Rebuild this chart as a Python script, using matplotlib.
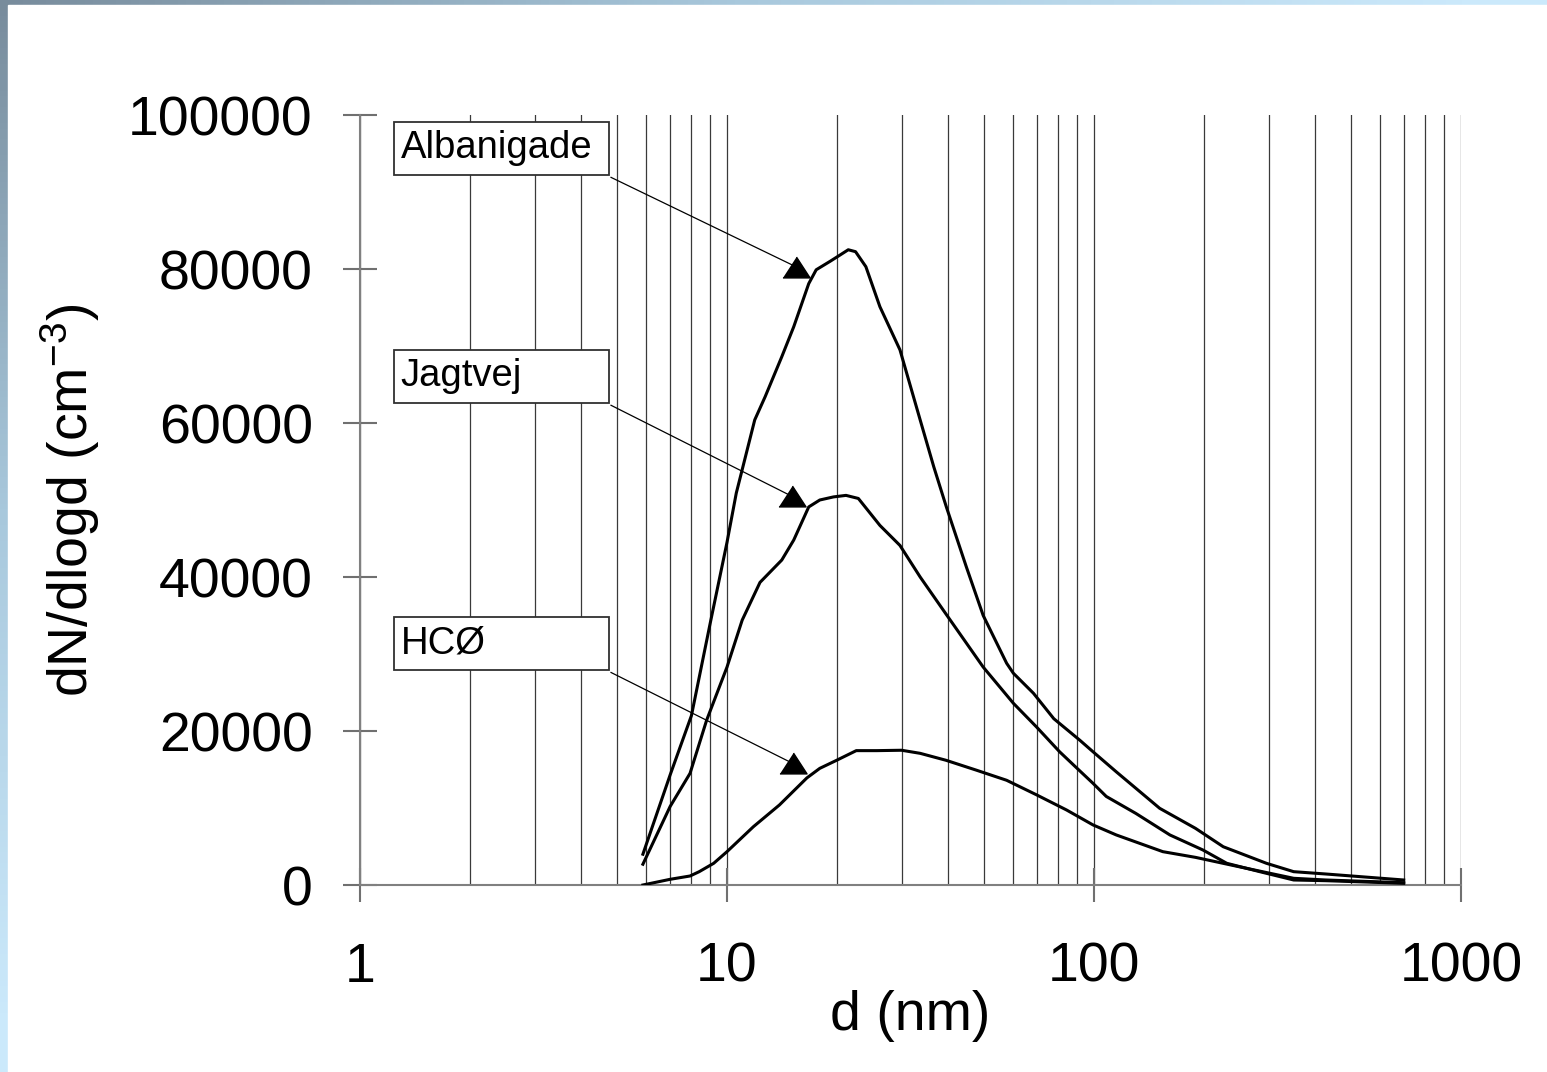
import numpy as np
import matplotlib
matplotlib.use('Agg')
import matplotlib.pyplot as plt
from matplotlib import ticker
from matplotlib.colors import LinearSegmentedColormap
from matplotlib.patches import Rectangle

plt.rcParams['font.family'] = ['Liberation Sans', 'DejaVu Sans']
plt.rcParams['mathtext.default'] = 'regular'

# size distributions (d in nm, dN/dlogd in cm^-3)
d_alb = [5.9, 7.0, 8.0, 9.0, 10.0, 10.6, 11.9, 12.7, 14.1, 15.2, 16.7, 17.5, 19.1, 20.3,
         21.4, 22.4, 23.9, 26.1, 29.6, 33.6, 36.6, 39.6, 44.9, 49.9, 57.8, 60.3, 68.4, 77.7,
         91.5, 99.4, 115, 151, 189, 225, 295, 350, 428, 698]
n_alb = [4000, 14300, 22000, 34000, 44500, 50900, 60400, 63400, 68600, 72500, 78100, 79900,
         81000, 81800, 82500, 82250, 80300, 75100, 69500, 60400, 54300, 49100, 41300, 35000,
         28800, 27500, 24900, 21600, 18800, 17300, 14700, 9960, 7360, 4970, 2820, 1730, 1430,
         650]

d_jag = [5.9, 7.0, 7.93, 8.8, 10.0, 11.0, 12.3, 14.1, 15.2, 16.7, 17.9, 19.5, 21.1, 22.8,
         26.1, 29.6, 33.6, 39.5, 49.9, 60.3, 69.8, 80.6, 88.8, 99.4, 108, 130, 161, 198, 230,
         283, 350, 428, 698]
n_jag = [2700, 10200, 14500, 21400, 28300, 34400, 39300, 42200, 44800, 49100, 50000, 50400,
         50600, 50200, 46700, 44100, 40000, 35200, 28300, 23600, 20500, 17300, 15400, 13200,
         11500, 9300, 6500, 4550, 2820, 1730, 650, 560, 220]

d_hco = [5.9, 7.0, 7.93, 8.4, 9.2, 10.0, 11.8, 13.9, 16.5, 17.9, 19.9, 22.5, 25.6, 29.9,
         33.6, 39.5, 47.9, 57.8, 69.8, 84.2, 99.4, 115, 154, 189, 243, 350, 428, 698]
n_hco = [0, 740, 1170, 1730, 2820, 4330, 7570, 10400, 13900, 15150, 16200, 17450, 17450,
         17500, 17100, 16200, 14900, 13600, 11700, 9740, 7800, 6500, 4330, 3590, 2470, 870,
         650, 300]

labels = ['Albanigade', 'Jagtvej', 'HCØ']
# where each label arrow points (d, dN/dlogd)
arrow_d = [15.4, 15.0, 15.1]
arrow_n = [80300, 50500, 15800]

x_ticks = [1, 10, 100, 1000]
y_ticks = [0, 20000, 40000, 60000, 80000, 100000]

W, H = 1547, 1072
fig = plt.figure(figsize=(W / 100, H / 100), dpi=100)

# slide background: gradient strips along top and left edges
bg = fig.add_axes([0, 0, 1, 1], zorder=-10)
gx, gy = np.meshgrid(np.linspace(0, 1, 200), np.linspace(0, 1, 200))
t = np.clip((gx + gy) / 0.95, 0, 1)
cmap = LinearSegmentedColormap.from_list('slide', ['#788c9c', '#a8c8dc', '#cbe9fb'])
bg.imshow(t, cmap=cmap, aspect='auto', extent=[0, 1, 1, 0])
bg.set_xlim(0, 1)
bg.set_ylim(1, 0)
bg.add_patch(Rectangle((8 / W, 5 / H), 1, 1, color='white'))
bg.axis('off')

ax = fig.add_axes([360 / W, (H - 885) / H, (1461 - 360) / W, (885 - 115) / H])
ax.set_xscale('log')
ax.set_xlim(1, 1000)
ax.set_ylim(0, 100000)
ax.patch.set_alpha(0)

for dd, nn in [(d_alb, n_alb), (d_jag, n_jag), (d_hco, n_hco)]:
    ax.plot(dd, nn, color='black', lw=2.2, zorder=3, solid_joinstyle='round')

ax.xaxis.set_major_locator(ticker.FixedLocator(x_ticks))
ax.xaxis.set_minor_locator(ticker.LogLocator(base=10, subs=range(2, 10)))
ax.xaxis.set_major_formatter(ticker.FuncFormatter(lambda v, p: f'{v:g}'))
ax.xaxis.set_minor_formatter(ticker.NullFormatter())
ax.set_yticks(y_ticks)
ax.yaxis.set_major_formatter(ticker.FuncFormatter(lambda v, p: f'{int(v)}'))

ax.grid(True, which='both', axis='x', color='#3a3a3a', lw=0.9, zorder=1)
ax.tick_params(axis='both', which='major', direction='inout', length=24, width=1.5,
               color='#707070', labelsize=40)
ax.tick_params(axis='x', which='major', pad=29)
ax.tick_params(axis='y', which='major', pad=22)
ax.tick_params(axis='x', which='minor', length=0)

for s in ['top', 'right']:
    ax.spines[s].set_visible(False)
for s in ['left', 'bottom']:
    ax.spines[s].set_color('#808080')
    ax.spines[s].set_linewidth(1.5)

ax.set_xlabel('d (nm)', fontsize=40)
ax.xaxis.set_label_coords(0.5, -0.136)
ax.set_ylabel('dN/dlogd (cm$^{-3}$)', fontsize=40)
ax.yaxis.set_label_coords(-0.234, 0.5)

# label boxes (axes fractions) with arrows
box_x0, box_w, box_h = 0.031, 0.195, 0.069
box_y0 = [0.922, 0.626, 0.279]
tri = [(-1.3, -1), (1.3, -1), (0, 1)]
for lab, y0, ad, an in zip(labels, box_y0, arrow_d, arrow_n):
    ax.add_patch(Rectangle((box_x0, y0), box_w, box_h, transform=ax.transAxes,
                           facecolor='white', edgecolor='#303030', lw=1.3, zorder=4))
    ax.text(box_x0 + 0.006, y0 + box_h / 2, lab, transform=ax.transAxes, fontsize=27.5,
            va='center', ha='left', zorder=5)
    sx, sy = box_x0 + box_w + 0.002, y0 - 0.003
    tx, ty = ax.transAxes.inverted().transform(ax.transData.transform((ad, an)))
    ax.plot([sx, tx], [sy, ty], transform=ax.transAxes, color='black', lw=0.9, zorder=4)
    ax.plot([ad], [an], marker=tri, markersize=19.5, color='black', zorder=5)

plt.savefig('out.png', dpi=100)
